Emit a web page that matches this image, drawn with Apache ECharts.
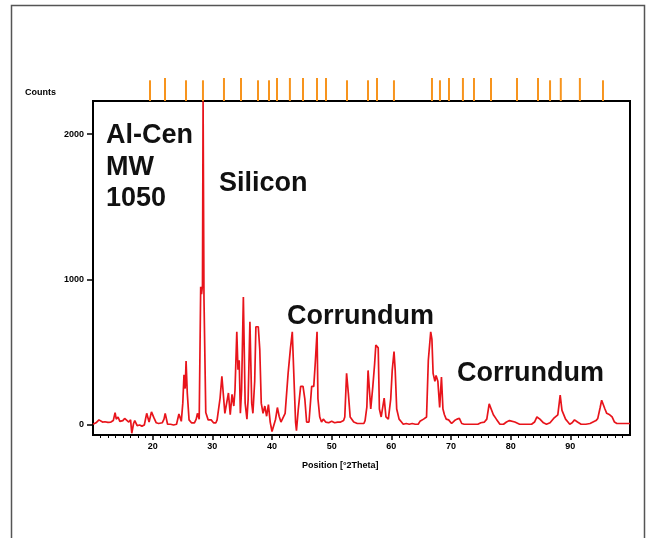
<!DOCTYPE html>
<html><head><meta charset="utf-8">
<script src="https://cdn.jsdelivr.net/npm/echarts@6/dist/echarts.min.js"></script>
<style>html,body{margin:0;padding:0;background:#fff}#c{width:646px;height:538px}</style>
</head><body><div id="c"></div>
<script>
// Measured diffractogram (Position [°2Theta] vs Counts)
const twoTheta = [10.0,10.5,11.0,11.3,11.6,12.0,12.5,13.0,13.4,13.7,13.9,14.2,14.5,15.0,15.3,15.6,16.0,16.3,16.5,16.8,17.0,17.4,17.8,18.2,18.6,19.0,19.4,19.8,20.2,20.6,21.0,21.6,21.9,22.1,22.5,23.0,23.5,24.0,24.4,24.8,25.05,25.25,25.45,25.6,25.8,26.1,26.5,27.0,27.3,27.5,27.8,28.05,28.2,28.35,28.45,28.6,28.75,28.9,29.3,29.8,30.2,30.6,30.8,31.3,31.6,31.9,32.1,32.4,32.7,33.0,33.3,33.6,33.8,34.1,34.3,34.5,34.7,34.9,35.2,35.5,35.8,36.0,36.3,36.6,36.8,37.1,37.3,37.7,37.95,38.2,38.5,38.8,39.1,39.4,39.7,40.0,40.3,40.6,40.9,41.2,41.5,41.8,42.2,42.7,43.1,43.4,43.6,43.75,43.95,44.1,44.4,44.8,45.2,45.5,45.8,46.2,46.65,47.0,47.25,47.55,47.7,48.0,48.3,48.6,49.0,49.5,50.0,50.5,51.0,51.5,52.0,52.2,52.5,52.8,53.1,53.7,54.3,55.0,55.4,55.6,55.9,56.1,56.35,56.55,56.9,57.2,57.4,57.8,58.0,58.3,58.8,59.1,59.5,59.9,60.15,60.45,60.65,60.9,61.3,61.7,62.0,62.5,63.0,63.5,64.0,64.5,64.8,65.4,65.9,66.2,66.6,66.8,67.0,67.3,67.5,67.8,68.1,68.4,68.65,68.9,69.2,69.6,70.1,70.6,71.0,71.4,71.8,72.2,73.0,73.8,74.5,75.0,75.6,76.0,76.4,76.7,77.1,77.6,78.2,78.8,79.3,79.8,80.1,80.7,81.5,82.5,83.5,84.0,84.4,84.9,85.5,86.0,86.6,87.2,87.9,88.3,88.6,88.9,89.2,89.6,89.9,90.3,90.7,91.2,91.8,92.6,93.3,93.8,94.3,94.6,95.0,95.25,95.5,95.8,96.1,96.6,97.0,97.4,97.8,98.5,99.2,100.0];
const counts = [5,15,35,25,20,22,18,20,30,85,40,55,25,30,45,55,20,35,-57,10,30,-5,0,-8,0,80,20,90,50,15,10,15,40,80,5,5,0,5,75,25,150,345,250,440,220,35,15,15,40,80,40,950,900,960,2225,870,870,85,35,35,15,15,35,185,335,340,80,70,220,70,210,130,240,640,380,445,80,240,880,150,40,175,710,150,80,300,675,675,520,150,80,130,60,140,20,-45,-40,40,120,60,20,20,80,355,530,640,640,245,20,-40,105,265,265,180,20,20,265,265,425,640,180,55,20,40,20,15,25,15,20,20,30,55,355,215,55,20,10,10,10,30,125,375,375,110,265,420,550,530,110,55,185,55,40,180,375,505,375,110,40,20,5,10,5,10,5,5,25,40,55,445,640,590,355,300,340,300,120,330,110,70,40,35,10,30,40,45,10,5,5,5,5,15,20,40,145,135,70,40,5,5,20,30,40,20,5,5,5,20,55,40,15,5,15,45,70,205,100,100,40,20,5,15,35,20,5,5,10,20,30,45,120,170,170,110,80,70,55,20,10,10,10,10];

// Reference pattern stick positions and relative heights
const refPeaks = [19.55,22.07,25.59,28.43,31.95,34.8,37.65,39.5,40.84,43.0,45.2,47.54,49.05,52.57,56.09,57.6,60.44,66.81,68.15,69.66,72.0,73.85,76.7,81.06,84.58,86.6,88.4,91.6,95.47];
const refHeights = [0.9,1,0.9,0.9,1,1,0.9,0.9,1,1,1,1,1,0.9,0.9,1,0.9,1,0.9,1,1,1,1,1,1,0.9,1,1,0.9];

const xTickLabels = [20,30,40,50,60,70,80,90];
const yTickLabels = [0,1000,2000];
const annotations = [
  {text:'Al-Cen', x:106, y:136},
  {text:'MW', x:106, y:168},
  {text:'1050', x:106, y:199},
  {text:'Silicon', x:219, y:184},
  {text:'Corrundum', x:287, y:317},
  {text:'Corrundum', x:457, y:374}
];

const FONT = '"Liberation Sans", Arial, sans-serif';
const chart = echarts.init(document.getElementById('c'), null, {renderer:'canvas'});
const option = {
  animation: false,
  backgroundColor: '#fff',
  grid: [
    {left:93, top:101, width:537, height:334, show:true, borderColor:'#000', borderWidth:2, backgroundColor:'transparent'},
    {left:93, top:78, width:537, height:23}
  ],
  xAxis: [
    {type:'value', gridIndex:0, min:10, max:100, interval:10,
     axisLine:{show:true, onZero:false, lineStyle:{color:'#000', width:2}},
     axisTick:{show:true, customValues:xTickLabels, length:5, lineStyle:{color:'#000', width:1.5}},
     minorTick:{show:true, splitNumber:8, length:3, lineStyle:{color:'#000', width:1}},
     axisLabel:{show:true, customValues:xTickLabels, formatter:(v)=>String(v), fontSize:9, fontWeight:'bold', color:'#000', margin:7, fontFamily:FONT},
     splitLine:{show:false}},
    {type:'value', gridIndex:1, min:10, max:100, show:false}
  ],
  yAxis: [
    {type:'value', gridIndex:0, min:-69, max:2227,
     axisLine:{show:true, onZero:false, lineStyle:{color:'#000', width:2}},
     axisTick:{show:true, customValues:yTickLabels, length:6, lineStyle:{color:'#000', width:1.5}},
     axisLabel:{show:true, customValues:yTickLabels, formatter:(v)=>String(v), fontSize:9, fontWeight:'bold', color:'#000', margin:9, fontFamily:FONT},
     splitLine:{show:false}},
    {type:'value', gridIndex:1, min:0, max:1, show:false}
  ],
  series: [
    {type:'line', xAxisIndex:0, yAxisIndex:0, data: twoTheta.map((x,i)=>[x,counts[i]]),
     showSymbol:false, symbol:'none', clip:true, lineStyle:{color:'#e8141b', width:1.7}, z:3},
    {type:'bar', xAxisIndex:1, yAxisIndex:1, data: refPeaks.map((x,i)=>[x,refHeights[i]]),
     barWidth:2, itemStyle:{color:'#f7941d'}}
  ],
  graphic: [
    {type:'polyline', shape:{points:[[11.5,545],[11.5,5.5],[644.5,5.5],[644.5,545]]}, style:{stroke:'#555', lineWidth:1.5, fill:null}, silent:true},
    {type:'text', left:25, top:88, style:{text:'Counts', font:'bold 9px '+FONT, fill:'#000'}},
    {type:'text', left:302, top:461, style:{text:'Position [°2Theta]', font:'bold 9px '+FONT, fill:'#000'}}
  ].concat(annotations.map(a=>({type:'text', x:a.x, y:a.y, z:10,
     style:{text:a.text, font:'bold 27px '+FONT, fill:'#111', verticalAlign:'middle', align:'left'}})))
};
chart.setOption(option);
</script>
</body></html>
